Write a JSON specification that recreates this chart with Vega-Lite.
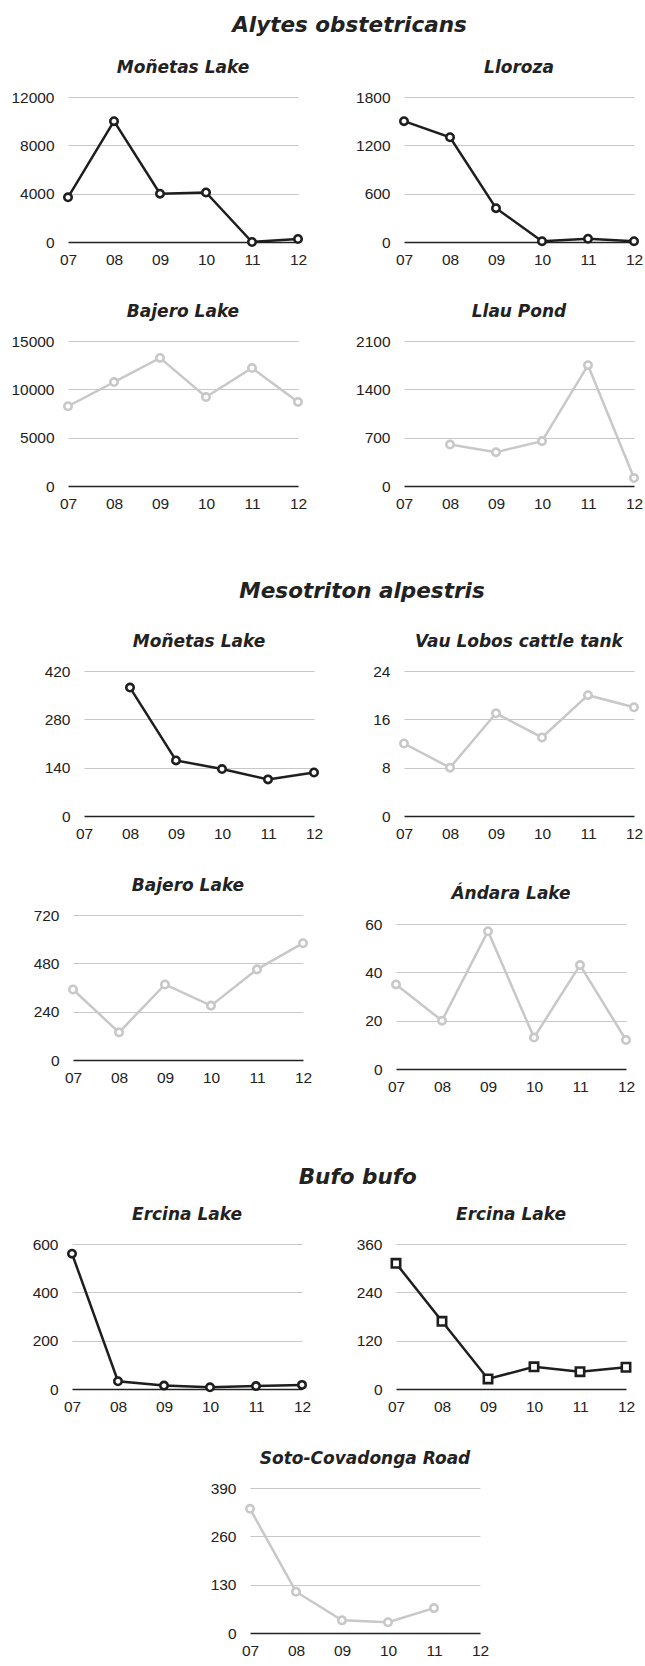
{
  "$schema": "https://vega.github.io/schema/vega-lite/v6.json",
  "padding": {"left": 8, "top": 15, "right": 0, "bottom": 0},
  "background": "white",
  "datasets": {
    "counts": [
      {"panel": "A1", "yr": "07", "n": 3700}, {"panel": "A1", "yr": "08", "n": 10000}, {"panel": "A1", "yr": "09", "n": 4000}, {"panel": "A1", "yr": "10", "n": 4100}, {"panel": "A1", "yr": "11", "n": 0}, {"panel": "A1", "yr": "12", "n": 250},
      {"panel": "A2", "yr": "07", "n": 1500}, {"panel": "A2", "yr": "08", "n": 1300}, {"panel": "A2", "yr": "09", "n": 420}, {"panel": "A2", "yr": "10", "n": 10}, {"panel": "A2", "yr": "11", "n": 40}, {"panel": "A2", "yr": "12", "n": 10},
      {"panel": "A3", "yr": "07", "n": 8250}, {"panel": "A3", "yr": "08", "n": 10750}, {"panel": "A3", "yr": "09", "n": 13250}, {"panel": "A3", "yr": "10", "n": 9200}, {"panel": "A3", "yr": "11", "n": 12200}, {"panel": "A3", "yr": "12", "n": 8700},
      {"panel": "A4", "yr": "08", "n": 600}, {"panel": "A4", "yr": "09", "n": 490}, {"panel": "A4", "yr": "10", "n": 650}, {"panel": "A4", "yr": "11", "n": 1750}, {"panel": "A4", "yr": "12", "n": 115},
      {"panel": "M1", "yr": "08", "n": 372}, {"panel": "M1", "yr": "09", "n": 161}, {"panel": "M1", "yr": "10", "n": 136}, {"panel": "M1", "yr": "11", "n": 106}, {"panel": "M1", "yr": "12", "n": 126},
      {"panel": "M2", "yr": "07", "n": 12}, {"panel": "M2", "yr": "08", "n": 8}, {"panel": "M2", "yr": "09", "n": 17}, {"panel": "M2", "yr": "10", "n": 13}, {"panel": "M2", "yr": "11", "n": 20}, {"panel": "M2", "yr": "12", "n": 18},
      {"panel": "M3", "yr": "07", "n": 350}, {"panel": "M3", "yr": "08", "n": 137}, {"panel": "M3", "yr": "09", "n": 375}, {"panel": "M3", "yr": "10", "n": 270}, {"panel": "M3", "yr": "11", "n": 450}, {"panel": "M3", "yr": "12", "n": 580},
      {"panel": "M4", "yr": "07", "n": 35}, {"panel": "M4", "yr": "08", "n": 20}, {"panel": "M4", "yr": "09", "n": 57}, {"panel": "M4", "yr": "10", "n": 13}, {"panel": "M4", "yr": "11", "n": 43}, {"panel": "M4", "yr": "12", "n": 12},
      {"panel": "B1", "yr": "07", "n": 560}, {"panel": "B1", "yr": "08", "n": 32}, {"panel": "B1", "yr": "09", "n": 14}, {"panel": "B1", "yr": "10", "n": 7}, {"panel": "B1", "yr": "11", "n": 12}, {"panel": "B1", "yr": "12", "n": 17},
      {"panel": "B2", "yr": "07", "n": 312}, {"panel": "B2", "yr": "08", "n": 168}, {"panel": "B2", "yr": "09", "n": 25}, {"panel": "B2", "yr": "10", "n": 55}, {"panel": "B2", "yr": "11", "n": 43}, {"panel": "B2", "yr": "12", "n": 54},
      {"panel": "B3", "yr": "07", "n": 334}, {"panel": "B3", "yr": "08", "n": 111}, {"panel": "B3", "yr": "09", "n": 34}, {"panel": "B3", "yr": "10", "n": 29}, {"panel": "B3", "yr": "11", "n": 67}
    ]
  },
  "concat": [
    {
      "title": {"text": "Alytes obstetricans", "fontSize": 21.5, "frame": "bounds", "anchor": "middle", "dx": 24, "offset": 22.5},
      "columns": 1, "align": "none", "spacing": 35,
      "concat": [
        {
          "hconcat": [
            {
              "title": "Moñetas Lake", "width": 230, "height": 145,
              "data": {"name": "counts"}, "transform": [{"filter": "datum.panel === 'A1'"}],
              "encoding": {
                "x": {"field": "yr", "type": "ordinal", "scale": {"type": "point", "domain": ["07", "08", "09", "10", "11", "12"], "padding": 0}, "axis": {"title": null}},
                "y": {"field": "n", "type": "quantitative", "scale": {"domain": [0, 12000]}, "axis": {"title": null, "format": "d", "values": [0, 4000, 8000, 12000], "minExtent": 60, "gridColor": {"condition": {"test": "datum.value === 0", "value": "#222222"}, "value": "#c8c8c8"}, "gridWidth": {"condition": {"test": "datum.value === 0", "value": 1.5}, "value": 1}}}
              },
              "layer": [
                {"mark": {"type": "line", "color": "#1e1e1e", "strokeWidth": 2.5}},
                {"mark": {"type": "point", "shape": "circle", "filled": true, "fill": "white", "stroke": "#1e1e1e", "strokeWidth": 2.6, "size": 55, "opacity": 1}}
              ]
            },
            {
              "title": "Lloroza", "width": 230, "height": 145,
              "data": {"name": "counts"}, "transform": [{"filter": "datum.panel === 'A2'"}],
              "encoding": {
                "x": {"field": "yr", "type": "ordinal", "scale": {"type": "point", "domain": ["07", "08", "09", "10", "11", "12"], "padding": 0}, "axis": {"title": null}},
                "y": {"field": "n", "type": "quantitative", "scale": {"domain": [0, 1800]}, "axis": {"title": null, "format": "d", "values": [0, 600, 1200, 1800], "gridColor": {"condition": {"test": "datum.value === 0", "value": "#222222"}, "value": "#c8c8c8"}, "gridWidth": {"condition": {"test": "datum.value === 0", "value": 1.5}, "value": 1}}}
              },
              "layer": [
                {"mark": {"type": "line", "color": "#1e1e1e", "strokeWidth": 2.5}},
                {"mark": {"type": "point", "shape": "circle", "filled": true, "fill": "white", "stroke": "#1e1e1e", "strokeWidth": 2.6, "size": 55, "opacity": 1}}
              ]
            }
          ],
          "spacing": 106, "bounds": "flush"
        },
        {
          "hconcat": [
            {
              "title": "Bajero Lake", "width": 230, "height": 145,
              "data": {"name": "counts"}, "transform": [{"filter": "datum.panel === 'A3'"}],
              "encoding": {
                "x": {"field": "yr", "type": "ordinal", "scale": {"type": "point", "domain": ["07", "08", "09", "10", "11", "12"], "padding": 0}, "axis": {"title": null}},
                "y": {"field": "n", "type": "quantitative", "scale": {"domain": [0, 15000]}, "axis": {"title": null, "format": "d", "values": [0, 5000, 10000, 15000], "minExtent": 60, "gridColor": {"condition": {"test": "datum.value === 0", "value": "#222222"}, "value": "#c8c8c8"}, "gridWidth": {"condition": {"test": "datum.value === 0", "value": 1.5}, "value": 1}}}
              },
              "layer": [
                {"mark": {"type": "line", "color": "#c8c8c8", "strokeWidth": 2.5}},
                {"mark": {"type": "point", "shape": "circle", "filled": true, "fill": "white", "stroke": "#c8c8c8", "strokeWidth": 2.6, "size": 55, "opacity": 1}}
              ]
            },
            {
              "title": "Llau Pond", "width": 230, "height": 145,
              "data": {"name": "counts"}, "transform": [{"filter": "datum.panel === 'A4'"}],
              "encoding": {
                "x": {"field": "yr", "type": "ordinal", "scale": {"type": "point", "domain": ["07", "08", "09", "10", "11", "12"], "padding": 0}, "axis": {"title": null}},
                "y": {"field": "n", "type": "quantitative", "scale": {"domain": [0, 2100]}, "axis": {"title": null, "format": "d", "values": [0, 700, 1400, 2100], "gridColor": {"condition": {"test": "datum.value === 0", "value": "#222222"}, "value": "#c8c8c8"}, "gridWidth": {"condition": {"test": "datum.value === 0", "value": 1.5}, "value": 1}}}
              },
              "layer": [
                {"mark": {"type": "line", "color": "#c8c8c8", "strokeWidth": 2.5}},
                {"mark": {"type": "point", "shape": "circle", "filled": true, "fill": "white", "stroke": "#c8c8c8", "strokeWidth": 2.6, "size": 55, "opacity": 1}}
              ]
            }
          ],
          "spacing": 106, "bounds": "flush"
        }
      ]
    },
    {
      "columns": 1, "align": "none", "spacing": 71,
      "concat": [
        {
          "title": {"text": "Mesotriton alpestris", "fontSize": 21.5, "frame": "bounds", "anchor": "middle", "dx": 24, "offset": 31},
          "columns": 1, "align": "none", "spacing": 35,
          "concat": [
            {
              "hconcat": [
                {
                  "title": {"text": "Moñetas Lake", "dx": 8}, "width": 246, "height": 145,
                  "data": {"name": "counts"}, "transform": [{"filter": "datum.panel === 'M1'"}],
                  "encoding": {
                    "x": {"field": "yr", "type": "ordinal", "scale": {"type": "point", "domain": ["07", "08", "09", "10", "11", "12"], "padding": 0, "range": [16, 246]}, "axis": {"title": null}},
                    "y": {"field": "n", "type": "quantitative", "scale": {"domain": [0, 420]}, "axis": {"title": null, "format": "d", "offset": -16, "values": [0, 140, 280, 420], "gridColor": {"condition": {"test": "datum.value === 0", "value": "#222222"}, "value": "#c8c8c8"}, "gridWidth": {"condition": {"test": "datum.value === 0", "value": 1.5}, "value": 1}}}
                  },
                  "layer": [
                    {"mark": {"type": "line", "color": "#1e1e1e", "strokeWidth": 2.5}},
                    {"mark": {"type": "point", "shape": "circle", "filled": true, "fill": "white", "stroke": "#1e1e1e", "strokeWidth": 2.6, "size": 55, "opacity": 1}}
                  ]
                },
                {
                  "title": "Vau Lobos cattle tank", "width": 230, "height": 145,
                  "data": {"name": "counts"}, "transform": [{"filter": "datum.panel === 'M2'"}],
                  "encoding": {
                    "x": {"field": "yr", "type": "ordinal", "scale": {"type": "point", "domain": ["07", "08", "09", "10", "11", "12"], "padding": 0}, "axis": {"title": null}},
                    "y": {"field": "n", "type": "quantitative", "scale": {"domain": [0, 24]}, "axis": {"title": null, "format": "d", "values": [0, 8, 16, 24], "gridColor": {"condition": {"test": "datum.value === 0", "value": "#222222"}, "value": "#c8c8c8"}, "gridWidth": {"condition": {"test": "datum.value === 0", "value": 1.5}, "value": 1}}}
                  },
                  "layer": [
                    {"mark": {"type": "line", "color": "#c8c8c8", "strokeWidth": 2.5}},
                    {"mark": {"type": "point", "shape": "circle", "filled": true, "fill": "white", "stroke": "#c8c8c8", "strokeWidth": 2.6, "size": 55, "opacity": 1}}
                  ]
                }
              ],
              "spacing": 90, "bounds": "flush"
            },
            {
              "hconcat": [
                {
                  "title": {"text": "Bajero Lake", "dx": 2.5}, "width": 235, "height": 145,
                  "data": {"name": "counts"}, "transform": [{"filter": "datum.panel === 'M3'"}],
                  "encoding": {
                    "x": {"field": "yr", "type": "ordinal", "scale": {"type": "point", "domain": ["07", "08", "09", "10", "11", "12"], "padding": 0, "range": [5, 235]}, "axis": {"title": null}},
                    "y": {"field": "n", "type": "quantitative", "scale": {"domain": [0, 720]}, "axis": {"title": null, "format": "d", "offset": -5, "values": [0, 240, 480, 720], "gridColor": {"condition": {"test": "datum.value === 0", "value": "#222222"}, "value": "#c8c8c8"}, "gridWidth": {"condition": {"test": "datum.value === 0", "value": 1.5}, "value": 1}}}
                  },
                  "layer": [
                    {"mark": {"type": "line", "color": "#c8c8c8", "strokeWidth": 2.5}},
                    {"mark": {"type": "point", "shape": "circle", "filled": true, "fill": "white", "stroke": "#c8c8c8", "strokeWidth": 2.6, "size": 55, "opacity": 1}}
                  ]
                },
                {
                  "title": {"text": "Ándara Lake", "offset": 12}, "width": 230, "height": 154,
                  "data": {"name": "counts"}, "transform": [{"filter": "datum.panel === 'M4'"}],
                  "encoding": {
                    "x": {"field": "yr", "type": "ordinal", "scale": {"type": "point", "domain": ["07", "08", "09", "10", "11", "12"], "padding": 0}, "axis": {"title": null}},
                    "y": {"field": "n", "type": "quantitative", "scale": {"domain": [0, 60], "range": [154, 9]}, "axis": {"title": null, "format": "d", "values": [0, 20, 40, 60], "gridColor": {"condition": {"test": "datum.value === 0", "value": "#222222"}, "value": "#c8c8c8"}, "gridWidth": {"condition": {"test": "datum.value === 0", "value": 1.5}, "value": 1}}}
                  },
                  "layer": [
                    {"mark": {"type": "line", "color": "#c8c8c8", "strokeWidth": 2.5}},
                    {"mark": {"type": "point", "shape": "circle", "filled": true, "fill": "white", "stroke": "#c8c8c8", "strokeWidth": 2.6, "size": 55, "opacity": 1}}
                  ]
                }
              ],
              "spacing": 93, "bounds": "flush"
            }
          ]
        },
        {
          "title": {"text": "Bufo bufo", "fontSize": 21.5, "frame": "bounds", "anchor": "middle", "dx": 24, "offset": 18},
          "columns": 1, "align": "none", "spacing": 35,
          "concat": [
            {
              "hconcat": [
                {
                  "title": {"text": "Ercina Lake", "dx": 2}, "width": 234, "height": 145,
                  "data": {"name": "counts"}, "transform": [{"filter": "datum.panel === 'B1'"}],
                  "encoding": {
                    "x": {"field": "yr", "type": "ordinal", "scale": {"type": "point", "domain": ["07", "08", "09", "10", "11", "12"], "padding": 0, "range": [4, 234]}, "axis": {"title": null}},
                    "y": {"field": "n", "type": "quantitative", "scale": {"domain": [0, 600]}, "axis": {"title": null, "format": "d", "offset": -4, "values": [0, 200, 400, 600], "gridColor": {"condition": {"test": "datum.value === 0", "value": "#222222"}, "value": "#c8c8c8"}, "gridWidth": {"condition": {"test": "datum.value === 0", "value": 1.5}, "value": 1}}}
                  },
                  "layer": [
                    {"mark": {"type": "line", "color": "#1e1e1e", "strokeWidth": 2.5}},
                    {"mark": {"type": "point", "shape": "circle", "filled": true, "fill": "white", "stroke": "#1e1e1e", "strokeWidth": 2.6, "size": 55, "opacity": 1}}
                  ]
                },
                {
                  "title": "Ercina Lake", "width": 230, "height": 145,
                  "data": {"name": "counts"}, "transform": [{"filter": "datum.panel === 'B2'"}],
                  "encoding": {
                    "x": {"field": "yr", "type": "ordinal", "scale": {"type": "point", "domain": ["07", "08", "09", "10", "11", "12"], "padding": 0}, "axis": {"title": null}},
                    "y": {"field": "n", "type": "quantitative", "scale": {"domain": [0, 360]}, "axis": {"title": null, "format": "d", "values": [0, 120, 240, 360], "gridColor": {"condition": {"test": "datum.value === 0", "value": "#222222"}, "value": "#c8c8c8"}, "gridWidth": {"condition": {"test": "datum.value === 0", "value": 1.5}, "value": 1}}}
                  },
                  "layer": [
                    {"mark": {"type": "line", "color": "#1e1e1e", "strokeWidth": 2.5}},
                    {"mark": {"type": "point", "shape": "square", "filled": true, "fill": "white", "stroke": "#1e1e1e", "strokeWidth": 2.6, "size": 70, "opacity": 1}}
                  ]
                }
              ],
              "spacing": 94, "bounds": "flush"
            },
            {
              "title": {"text": "Soto-Covadonga Road", "dx": 91}, "width": 412, "height": 145,
              "data": {"name": "counts"}, "transform": [{"filter": "datum.panel === 'B3'"}],
              "encoding": {
                "x": {"field": "yr", "type": "ordinal", "scale": {"type": "point", "domain": ["07", "08", "09", "10", "11", "12"], "padding": 0, "range": [182, 412]}, "axis": {"title": null}},
                "y": {"field": "n", "type": "quantitative", "scale": {"domain": [0, 390]}, "axis": {"title": null, "format": "d", "offset": -182, "values": [0, 130, 260, 390], "gridColor": {"condition": {"test": "datum.value === 0", "value": "#222222"}, "value": "#c8c8c8"}, "gridWidth": {"condition": {"test": "datum.value === 0", "value": 1.5}, "value": 1}}}
              },
              "layer": [
                {"mark": {"type": "line", "color": "#c8c8c8", "strokeWidth": 2.5}},
                {"mark": {"type": "point", "shape": "circle", "filled": true, "fill": "white", "stroke": "#c8c8c8", "strokeWidth": 2.6, "size": 55, "opacity": 1}}
              ]
            }
          ]
        }
      ]
    }
  ],
  "columns": 1, "align": "none", "spacing": 68,
  "config": {
    "view": {"stroke": null},
    "axis": {"labelFont": "Liberation Sans", "labelFontSize": 15.5, "labelColor": "#222222", "ticks": false, "domain": false, "title": null},
    "axisX": {"grid": false, "labelAngle": 0, "labelPadding": 10},
    "axisY": {"grid": true, "labelPadding": 14},
    "title": {"font": "DejaVu Sans", "fontStyle": "italic", "fontWeight": "bold", "fontSize": 17, "color": "#222222", "offset": 13, "anchor": "middle"}
  }
}
